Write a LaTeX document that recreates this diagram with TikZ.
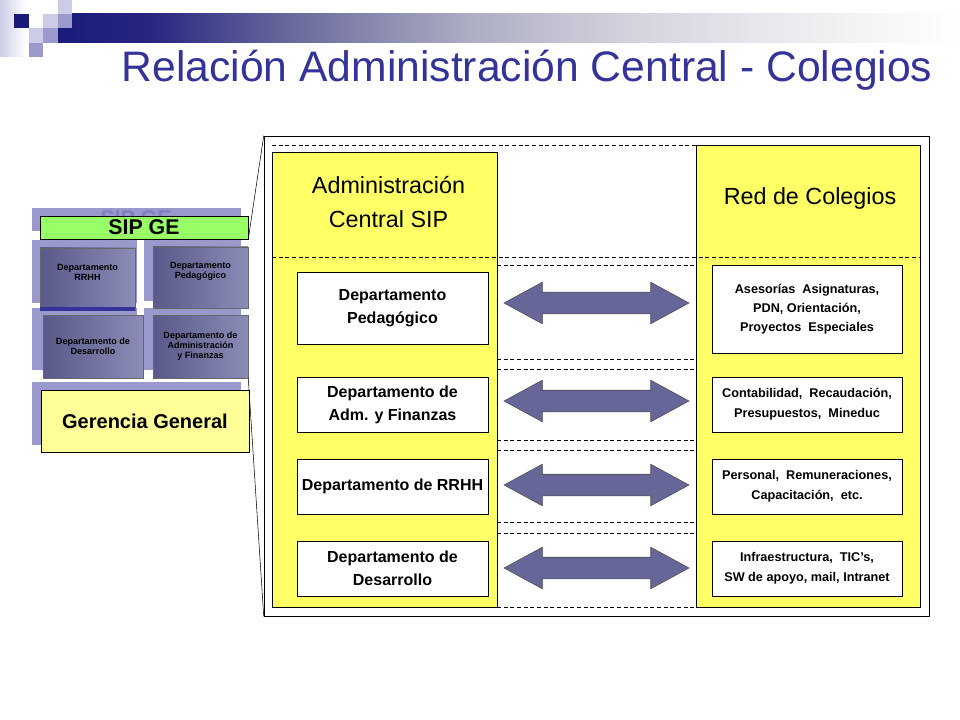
\documentclass[tikz,border=0pt]{standalone}
\usepackage{fontspec}
\setmainfont{Liberation Sans}
\usepackage{tikz}
\usetikzlibrary{shapes.arrows}

\definecolor{titleblue}{HTML}{333399}
\definecolor{navy}{HTML}{1A1A7A}
\definecolor{barA}{HTML}{262680}
\definecolor{barB}{HTML}{6A6A9C}
\definecolor{barC}{HTML}{AEAEC4}
\definecolor{barD}{HTML}{D4D4DE}
\definecolor{barE}{HTML}{ECECF0}
\definecolor{lav}{HTML}{9999CC}
\definecolor{lavtext}{HTML}{7F7FBF}
\definecolor{lavlight}{HTML}{CCCCE6}
\definecolor{panelyellow}{HTML}{FFFF66}
\definecolor{paleyellow}{HTML}{FFFF99}
\definecolor{sipgreen}{HTML}{99FF66}
\definecolor{deptdark}{HTML}{59598A}
\definecolor{deptlight}{HTML}{8C8CB8}
\definecolor{arrowfill}{HTML}{666699}

\pgfdeclarehorizontalshading{titlebar}{100bp}{color(0bp)=(navy); color(25bp)=(navy); color(30bp)=(barA); color(38bp)=(barB); color(48bp)=(barC); color(57bp)=(barD); color(66bp)=(barE); color(75bp)=(white); color(100bp)=(white)}

\tikzset{
	ghost/.style={fill=lav},
	deptsmall/.style={draw=black!60, left color=deptdark, right color=deptlight, inner sep=0pt, align=center, font=\bfseries\fontsize{6.8}{7.5}\selectfont},
	unitbox/.style={draw, fill=white, inner sep=0pt, align=center, minimum width=143.25pt, minimum height=41.25pt, font=\bfseries\fontsize{12}{17.25}\selectfont},
	schoolbox/.style={draw, fill=white, inner sep=0pt, align=center, minimum width=142.5pt, minimum height=41.25pt, font=\bfseries\fontsize{9.5}{15}\selectfont},
	heading/.style={align=center, font=\fontsize{17.5}{25.5}\selectfont},
	linkarrow/.style={double arrow, draw=black!70, fill=arrowfill, inner xsep=0pt, inner ysep=7.875pt, minimum height=138.75pt, minimum width=30.75pt, double arrow head extend=7.5pt, double arrow tip angle=57},
	sepline/.style={dashed, dash pattern=on 3pt off 2pt, line width=0.6pt}
}

\begin{document}
\begin{tikzpicture}[x=0.75pt,y=-0.75pt]
	\useasboundingbox (0,0) rectangle (960,720);
	% title bar
	\shade[left color=lavlight, right color=white] (0,0) rectangle (26,57);
	\shade[shading=titlebar] (58,14) rectangle (960,43);
	\fill[navy] (14,14) rectangle (29,28);
	\fill[lavlight] (43,14) rectangle (58,28);
	\fill[lavlight] (58,0) rectangle (72,14);
	\fill[lav] (58,14) rectangle (72,28);
	\fill[lavlight] (29,28) rectangle (43,43);
	\fill[lav] (43,28) rectangle (58,43);
	\fill[lav] (29,43) rectangle (43,57);
	\node[text=titleblue, font=\fontsize{32}{36}\selectfont] (title) at (527,70) {Relación Administración Central - Colegios};

	% small organisation chart
	\fill[ghost] (32,208) rectangle (241,231);
	\node[text=lavtext, font=\bfseries\fontsize{16}{18}\selectfont] (sipghost) at (136,218) {SIP GE};
	\fill[ghost] (32,240) rectangle (137,303);
	\fill[ghost] (144,238) rectangle (241,301);
	\fill[ghost] (32,308) rectangle (137,370);
	\fill[ghost] (144,308) rectangle (241,370);
	\fill[ghost] (32,382) rectangle (241,445);
	\node[draw, fill=sipgreen, inner sep=0pt, minimum width=156pt, minimum height=17.25pt, font=\bfseries\fontsize{16}{18}\selectfont] (sip) at (144,227.5) {SIP GE};
	\node[deptsmall, minimum width=71.25pt, minimum height=46.5pt] (drrhh) at (87.5,279) {Departamento\\RRHH\\[3pt]\mbox{}};
	\fill[titleblue] (40,307) rectangle (135,311);
	\node[deptsmall, minimum width=71.25pt, minimum height=45.75pt] (dped) at (200.5,277.5) {Departamento\\Pedagógico\\[3pt]\mbox{}};
	\node[deptsmall, minimum width=75pt, minimum height=47.25pt] (ddes) at (93,346.5) {Departamento de\\Desarrollo};
	\node[deptsmall, minimum width=71.25pt, minimum height=47.25pt] (dadm) at (200.5,346.5) {Departamento de\\Administración\\y Finanzas};
	\node[draw, fill=paleyellow, inner sep=0pt, minimum width=156pt, minimum height=46.5pt, font=\bfseries\fontsize{15}{17}\selectfont] (gerencia) at (145,421) {Gerencia General};

	% enlarged view
	\node[draw, fill=white, inner sep=0pt, minimum width=498.75pt, minimum height=360pt] (zoomframe) at (596.5,376) {};
	\draw (sip.south east) -- (zoomframe.north west);
	\draw (dadm.south east) -- (zoomframe.south west);
	\filldraw[fill=panelyellow] (272,152) rectangle (497,607);
	\filldraw[fill=panelyellow] (696,145) rectangle (920,607);
	\draw[sepline] (272,145) -- (696,145);
	\draw[sepline] (272,257) -- (920,257);
	\draw[sepline] (497,265) -- (696,265);
	\draw[sepline] (497,359) -- (696,359);
	\draw[sepline] (497,369) -- (696,369);
	\draw[sepline] (497,440) -- (696,440);
	\draw[sepline] (497,450) -- (696,450);
	\draw[sepline] (497,522) -- (696,522);
	\draw[sepline] (497,533) -- (696,533);
	\draw[sepline] (497,607) -- (696,607);
	\node[heading] (central) at (388.5,202) {Administración\\Central SIP};
	\node[heading] (red) at (810,198) {Red de Colegios};

	\node[unitbox, minimum height=54pt] (ped) at (392.5,308) {Departamento\\Pedagógico};
	\node[unitbox] (adm) at (392.5,404.5) {Departamento de\\Adm. y Finanzas};
	\node[unitbox] (rrhh) at (392.5,486.5) {Departamento de RRHH};
	\node[unitbox] (des) at (392.5,568.5) {Departamento de\\Desarrollo};

	\node[schoolbox, minimum height=66pt, font=\bfseries\fontsize{9.5}{14.25}\selectfont] (ase) at (807,309) {Asesorías \ Asignaturas,\\PDN, Orientación,\\Proyectos \ Especiales};
	\node[schoolbox] (con) at (807,404.5) {Contabilidad, \ Recaudación,\\Presupuestos, \ Mineduc};
	\node[schoolbox] (per) at (807,486.5) {Personal, \ Remuneraciones,\\Capacitación, \ etc.};
	\node[schoolbox] (inf) at (807,568.5) {Infraestructura, \ TIC’s,\\SW de apoyo, mail, Intranet};

	\node[linkarrow] (a1) at (596.5,303) {};
	\node[linkarrow] (a2) at (596.5,401) {};
	\node[linkarrow] (a3) at (596.5,485) {};
	\node[linkarrow] (a4) at (596.5,568) {};
\end{tikzpicture}
\end{document}
